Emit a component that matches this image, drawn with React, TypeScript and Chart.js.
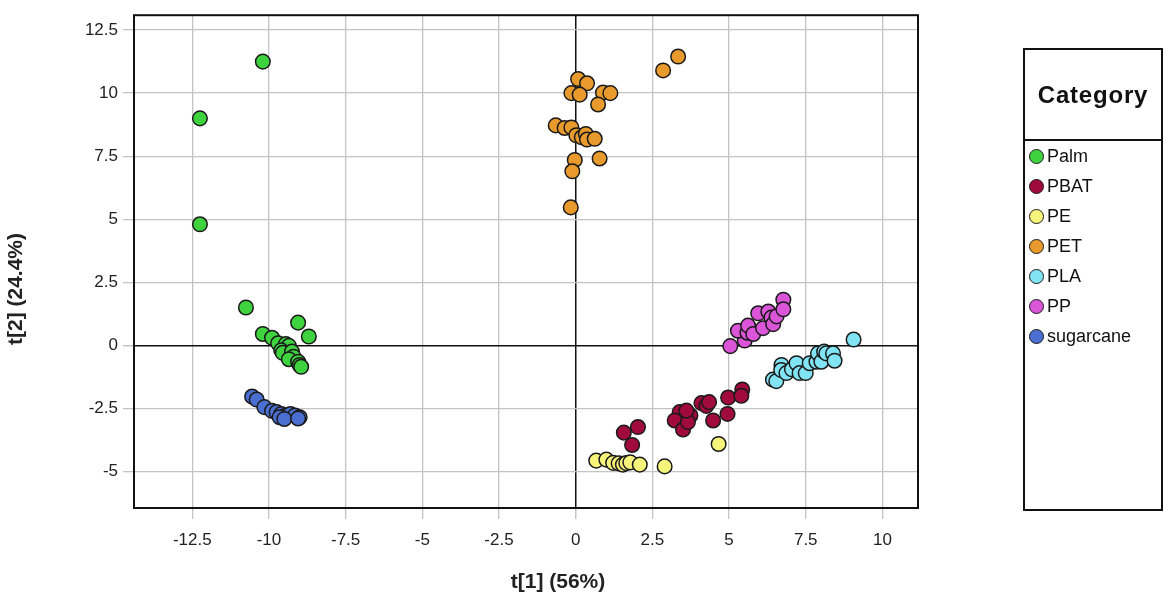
// App.tsx
import { useEffect, useRef } from 'react';
import { Chart, ChartConfiguration, registerables } from 'chart.js';

Chart.register(...registerables);

// category names and marker colours
const categories = ['Palm', 'PBAT', 'PE', 'PET', 'PLA', 'PP', 'sugarcane'];
const colors = ['#3fd23f', '#a00a3c', '#f7f47c', '#e89a2c', '#80e4f4', '#da55d8', '#4b6fd1'];

// tick values on both axes
const xTicks = [-12.5, -10, -7.5, -5, -2.5, 0, 2.5, 5, 7.5, 10];
const yTicks = [-5, -2.5, 0, 2.5, 5, 7.5, 10, 12.5];

// score values: [t1, t2]
const palm = [
    [-10.2, 11.25], [-12.25, 9.0], [-12.25, 4.8], [-10.75, 1.5], [-9.05, 0.9], [-8.7, 0.35],
    [-10.2, 0.45], [-9.9, 0.3], [-9.7, 0.08], [-9.45, 0.05], [-9.35, -0.02], [-9.6, -0.2],
    [-9.55, -0.3], [-9.25, -0.25], [-9.2, -0.45], [-9.35, -0.55], [-9.05, -0.65], [-9.0, -0.78],
    [-8.95, -0.85],
];
const pbat = [
    [2.03, -3.24], [1.57, -3.46], [1.84, -3.95], [3.39, -2.65], [3.23, -2.98], [3.5, -3.34],
    [3.74, -2.78], [3.66, -3.04], [3.61, -2.59], [4.1, -2.29], [4.26, -2.4], [4.35, -2.25],
    [4.48, -2.98], [4.97, -2.07], [4.95, -2.72], [5.43, -1.75], [5.4, -2.0],
];
const pe = [
    [0.67, -4.57], [1.0, -4.53], [1.22, -4.66], [1.4, -4.68], [1.54, -4.73], [1.65, -4.67],
    [1.78, -4.64], [2.09, -4.73], [2.9, -4.8], [4.66, -3.91],
];
const pet = [
    [3.34, 11.45], [2.85, 10.9], [0.08, 10.56], [0.37, 10.39], [-0.14, 10.0], [0.13, 9.94],
    [0.89, 10.02], [1.13, 10.0], [0.73, 9.55], [-0.65, 8.72], [-0.36, 8.62], [-0.14, 8.64],
    [0.02, 8.33], [0.2, 8.25], [0.33, 8.38], [0.37, 8.16], [0.62, 8.19], [-0.03, 7.35],
    [0.78, 7.41], [-0.11, 6.9], [-0.16, 5.47],
];
const pla = [
    [9.06, 0.23], [6.43, -1.36], [6.54, -1.42], [6.71, -0.78], [6.7, -0.98], [6.87, -1.1],
    [7.05, -0.95], [7.2, -0.71], [7.3, -1.1], [7.5, -1.1], [7.63, -0.71], [7.85, -0.65],
    [7.9, -0.32], [8.01, -0.65], [8.1, -0.25], [8.17, -0.32], [8.39, -0.32], [8.44, -0.61],
];
const pp = [
    [5.04, -0.03], [5.51, 0.19], [5.29, 0.58], [5.6, 0.5], [5.62, 0.78], [5.79, 0.45],
    [5.95, 1.27], [6.11, 0.68], [6.28, 1.34], [6.38, 1.1], [6.44, 0.84], [6.55, 1.15],
    [6.77, 1.81], [6.77, 1.43],
];
const sugarcane = [
    [-10.55, -2.03], [-10.4, -2.15], [-10.15, -2.45], [-9.9, -2.6], [-9.75, -2.65],
    [-9.6, -2.72], [-9.45, -2.78], [-9.3, -2.72], [-9.15, -2.78], [-9.0, -2.85],
    [-9.65, -2.85], [-9.5, -2.92], [-9.05, -2.9],
];
const series = [palm, pbat, pe, pet, pla, pp, sugarcane];

const xTitle = 't[1] (56%)';
const yTitle = 't[2] (24.4%)';

const FONT = '"Liberation Sans", Arial, sans-serif';
const GRID = '#c4c4c4';

// black frame round the plot area, under the points
const framePlugin = {
    id: 'frame',
    beforeDatasetsDraw(chart: Chart) {
        const { ctx, chartArea: a } = chart;
        ctx.save();
        ctx.strokeStyle = '#111';
        ctx.lineWidth = 2;
        ctx.strokeRect(a.left, a.top, a.right - a.left, a.bottom - a.top);
        ctx.restore();
    },
};

// axis titles, placed where the original has them
const titlesPlugin = {
    id: 'axisTitles',
    afterDraw(chart: Chart) {
        const { ctx } = chart;
        ctx.save();
        ctx.fillStyle = '#222';
        ctx.font = `bold 21px ${FONT}`;
        ctx.textAlign = 'center';
        ctx.textBaseline = 'middle';
        ctx.fillText(xTitle, 558, 582);
        ctx.translate(16, 289);
        ctx.rotate(-Math.PI / 2);
        ctx.fillText(yTitle, 0, 0);
        ctx.restore();
    },
};

const ScoreChart: React.FC = () => {
    const canvasRef = useRef<HTMLCanvasElement | null>(null);
    const chartInstance = useRef<Chart<'scatter'> | null>(null);

    useEffect(() => {
        if (!canvasRef.current) return;
        if (chartInstance.current) chartInstance.current.destroy();

        const tickFont = { family: FONT, size: 17 };
        const gridColor = (c: any) => (c.tick && c.tick.value === 0 ? '#111' : GRID);
        const gridWidth = (c: any) => (c.tick && c.tick.value === 0 ? 1.5 : 1.3);
        const label = (v: any) => String(Math.round(Number(v) * 10) / 10);

        const config: ChartConfiguration<'scatter'> = {
            type: 'scatter',
            data: {
                datasets: series.map((pts, i) => ({
                    label: categories[i],
                    data: pts.map(([x, y]) => ({ x, y })),
                    backgroundColor: colors[i],
                    borderColor: '#1a1a1a',
                    borderWidth: 1.5,
                    pointRadius: 7.3,
                    pointHoverRadius: 7.3,
                })),
            },
            options: {
                responsive: true,
                maintainAspectRatio: false,
                animation: false,
                layout: { padding: { top: 5, right: 251, left: 0, bottom: 0 } },
                plugins: {
                    legend: { display: false },
                    tooltip: { enabled: false },
                },
                scales: {
                    x: {
                        type: 'linear',
                        min: -14.4,
                        max: 11.16,
                        border: { display: false },
                        afterBuildTicks: (s: any) => {
                            s.ticks = xTicks.map((value) => ({ value }));
                        },
                        afterFit: (s: any) => {
                            s.height = 95;
                        },
                        ticks: {
                            padding: 11,
                            color: '#222',
                            font: tickFont,
                            maxRotation: 0,
                            autoSkip: false,
                            callback: label,
                        },
                        grid: { color: gridColor, lineWidth: gridWidth, tickLength: 11, tickColor: GRID },
                    },
                    y: {
                        type: 'linear',
                        min: -6.45,
                        max: 13.09,
                        border: { display: false },
                        afterBuildTicks: (s: any) => {
                            s.ticks = yTicks.map((value) => ({ value }));
                        },
                        afterFit: (s: any) => {
                            s.width = 134;
                        },
                        ticks: {
                            padding: 5,
                            color: '#222',
                            font: tickFont,
                            autoSkip: false,
                            callback: label,
                        },
                        grid: { color: gridColor, lineWidth: gridWidth, tickLength: 11, tickColor: GRID },
                    },
                },
            },
            plugins: [framePlugin, titlesPlugin],
        };

        chartInstance.current = new Chart(canvasRef.current, config);

        return () => {
            if (chartInstance.current) {
                chartInstance.current.destroy();
                chartInstance.current = null;
            }
        };
    }, []);

    return <canvas ref={canvasRef} />;
};

const Legend: React.FC = () => (
    <div
        style={{
            position: 'absolute',
            left: 1023,
            top: 48,
            width: 140,
            height: 463,
            border: '2px solid #111',
            boxSizing: 'border-box',
            fontFamily: FONT,
            color: '#111',
        }}
    >
        <div
            style={{
                height: 89,
                borderBottom: '2px solid #111',
                display: 'flex',
                alignItems: 'center',
                justifyContent: 'center',
                fontWeight: 'bold',
                fontSize: 24,
                letterSpacing: 0.8,
            }}
        >
            Category
        </div>
        {categories.map((name, i) => (
            <div key={name} style={{ height: 30, display: 'flex', alignItems: 'center', paddingLeft: 4 }}>
                <span
                    style={{
                        width: 15,
                        height: 15,
                        borderRadius: '50%',
                        background: colors[i],
                        border: '1.5px solid #1a1a1a',
                        boxSizing: 'border-box',
                        marginRight: 3,
                        flexShrink: 0,
                    }}
                />
                <span style={{ fontSize: 18 }}>{name}</span>
            </div>
        ))}
    </div>
);

export default function App() {
    return (
        <div style={{ position: 'fixed', left: 0, top: 0, width: 1169, height: 603, background: '#fff' }}>
            <div style={{ position: 'absolute', left: 0, top: 0, width: 1169, height: 603 }}>
                <ScoreChart />
            </div>
            <Legend />
        </div>
    );
}
